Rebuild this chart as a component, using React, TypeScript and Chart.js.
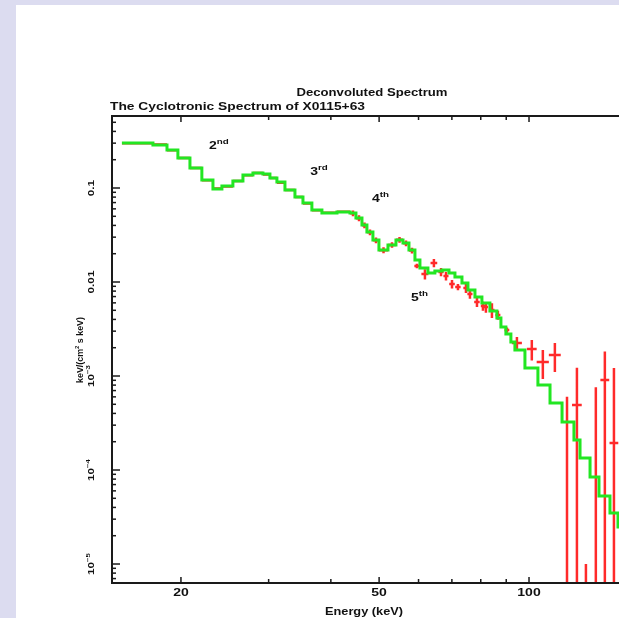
import { useEffect, useRef } from 'react';
import { Chart, registerables } from 'chart.js';
Chart.register(...registerables);

const FONT = "'Liberation Sans', Arial, Helvetica, sans-serif";

// ---------- data ----------
const titleText = 'Deconvoluted Spectrum';
const subtitleText = 'The Cyclotronic Spectrum of X0115+63';
const xAxisTitle = 'Energy (keV)';
const yAxisTitle = 'keV/(cm^{2} s keV)';

const xRange = [14.54, 151.6];
const yRange = [6.28e-6, 0.5834];

const xTickValues = [20, 50, 100];
const xTickLabels = ['20', '50', '100'];
const xMinorTickValues = [30, 40, 60, 70, 80, 90];

const yTickValues = [0.1, 0.01, 1e-3, 1e-4, 1e-5];
const yTickLabels = ['0.1', '0.01', '10^{\u22123}', '10^{\u22124}', '10^{\u22125}'];

// model (green histogram): bin edges (keV) and value of each bin
const modelEdges = [15.22, 17.57, 18.75, 19.72, 20.85, 22.03, 23.19, 24.17, 25.43, 26.64, 27.9, 29.22, 30.18, 31.17, 32.35, 33.88, 35.16, 36.64, 38.38, 41.15, 43.7, 44.92, 46.19, 47.26, 48.59, 49.96, 52.09, 54.05, 55.84, 57.4, 59.01, 60.39, 62.66, 64.71, 66.88, 69.07, 71.0, 73.34, 75.4, 77.88, 80.43, 83.46, 86.2, 87.82, 89.86, 91.96, 93.69, 98.13, 104.2, 110.2, 116.5, 123.1, 126.6, 132.6, 138.2, 145.4, 150.9, 155.8];
const modelValues = [0.301, 0.287, 0.254, 0.2085, 0.1632, 0.1216, 0.0976, 0.105, 0.1187, 0.1375, 0.1444, 0.1409, 0.1278, 0.1158, 0.0952, 0.0802, 0.0692, 0.0583, 0.0542, 0.0556, 0.0542, 0.048, 0.0404, 0.034, 0.028, 0.0219, 0.0247, 0.028, 0.026, 0.0219, 0.01714, 0.01409, 0.01246, 0.01309, 0.01342, 0.01246, 0.0113, 0.00976, 0.00822, 0.00692, 0.00598, 0.00491, 0.00414, 0.00332, 0.0028, 0.0023, 0.00189, 0.00122, 0.000802, 0.000516, 0.000324, 0.000208, 0.000134, 0.0000842, 0.0000529, 0.0000349, 0.0000247];

// data (red crosses)
const dataEnergy = [16.4, 18.16, 19.24, 20.29, 21.44, 22.61, 23.68, 24.8, 26.04, 27.27, 28.56, 29.7, 30.68, 31.76, 33.12, 34.52, 35.9, 37.51, 39.77, 42.43, 44.31, 45.56, 46.73, 47.93, 49.28, 51.03, 53.07, 54.95, 56.62, 58.21, 59.55, 61.8, 64.42, 66.57, 68.12, 70.04, 71.99, 74.71, 76.1, 78.61, 80.81, 81.93, 84.24, 86.6, 90.28, 94.56, 101.3, 106.6, 112.7, 119.2, 124.8, 130.1, 136.2, 142.0, 148.1];
const dataEnergyErr = [1.17, 0.59, 0.49, 0.56, 0.59, 0.58, 0.49, 0.63, 0.6, 0.63, 0.66, 0.48, 0.5, 0.59, 0.77, 0.64, 0.74, 0.87, 1.39, 1.28, 0.61, 0.64, 0.54, 0.67, 0.69, 1.07, 0.98, 0.9, 0.78, 0.81, 0.7, 1.0, 1.0, 0.8, 0.8, 0.9, 0.9, 0.9, 0.9, 1.0, 0.8, 0.8, 1.0, 1.0, 1.0, 2.2, 2.3, 3.0, 3.1, 2.7, 2.8, 2.7, 2.8, 2.9, 3.0];
const dataFlux = [0.3, 0.29, 0.252, 0.208, 0.163, 0.121, 0.099, 0.104, 0.119, 0.137, 0.144, 0.139, 0.128, 0.114, 0.0955, 0.08, 0.0685, 0.058, 0.0545, 0.0558, 0.054, 0.0478, 0.0402, 0.0338, 0.0278, 0.0218, 0.0248, 0.0282, 0.0258, 0.0216, 0.0148, 0.01216, 0.01592, 0.01278, 0.01158, 0.00952, 0.00885, 0.00863, 0.00745, 0.00613, 0.00556, 0.00542, 0.00504, 0.00446, 0.00309, 0.002244, 0.001938, 0.001409, 0.001673, -0.0002, 0.000491, -0.0003, -0.0001, 0.000907, 0.000194];
const dataFluxErr = [0.006, 0.0058, 0.005, 0.0042, 0.0033, 0.0025, 0.002, 0.0021, 0.0024, 0.0027, 0.0029, 0.0028, 0.0026, 0.0023, 0.0019, 0.0016, 0.0014, 0.0012, 0.0011, 0.0011, 0.0038, 0.0034, 0.0028, 0.0024, 0.002, 0.0016, 0.0017, 0.002, 0.0018, 0.0015, 0.0008, 0.0015, 0.0016, 0.0013, 0.0012, 0.001, 0.0007, 0.001, 0.0008, 0.0007, 0.0006, 0.0007, 0.0009, 0.0005, 0.0002, 0.00036, 0.00048, 0.00048, 0.00057, 0.0008, 0.00073, 0.00031, 0.00086, 0.00092, 0.00102];

// harmonic labels
const harmonicLabels = ['2^{nd}', '3^{rd}', '4^{th}', '5^{th}'];
const harmonicEnergy = [23.3, 37.2, 49.5, 59.3];
const harmonicFlux = [0.2795, 0.1479, 0.0764, 0.00676];

// ---------- helpers ----------
type Part = { t: string; sup: boolean };
function parseRich(s: string): Part[] {
  const parts: Part[] = [];
  const re = /\^\{([^}]*)\}/g;
  let last = 0;
  let m: RegExpExecArray | null;
  while ((m = re.exec(s))) {
    if (m.index > last) parts.push({ t: s.slice(last, m.index), sup: false });
    parts.push({ t: m[1], sup: true });
    last = re.lastIndex;
  }
  if (last < s.length) parts.push({ t: s.slice(last), sup: false });
  return parts;
}

function drawRich(
  ctx: CanvasRenderingContext2D,
  s: string,
  x: number,
  y: number,
  size: number,
  opts: { sx?: number; width?: number; rot?: number; align?: 'left' | 'center' | 'right' } = {}
) {
  const parts = parseRich(s);
  const supSize = Math.round(size * 0.72);
  let w = 0;
  const widths = parts.map((p) => {
    ctx.font = `bold ${p.sup ? supSize : size}px ${FONT}`;
    const mw = ctx.measureText(p.t).width;
    w += mw;
    return mw;
  });
  const sx = opts.width ? opts.width / w : opts.sx ?? 1;
  const align = opts.align ?? 'center';
  ctx.save();
  ctx.translate(x, y);
  if (opts.rot) ctx.rotate(opts.rot);
  ctx.scale(sx, 1);
  let start = align === 'left' ? 0 : align === 'right' ? -w : -w / 2;
  ctx.textBaseline = 'middle';
  ctx.textAlign = 'left';
  ctx.fillStyle = '#111';
  parts.forEach((p, i) => {
    ctx.font = `bold ${p.sup ? supSize : size}px ${FONT}`;
    ctx.fillText(p.t, start, p.sup ? -size * 0.42 : 0);
    start += widths[i];
  });
  ctx.restore();
}

const overlayPlugin = {
  id: 'overlay',
  beforeDraw(chart: any) {
    const { ctx, width, height } = chart;
    ctx.save();
    ctx.fillStyle = '#dcdcf0';
    ctx.fillRect(0, 0, width, height);
    ctx.fillStyle = '#ffffff';
    ctx.fillRect(16, 5, width - 16, height - 5);
    ctx.restore();
  },
  afterDatasetsDraw(chart: any) {
    const { ctx, chartArea } = chart;
    const xs = chart.scales.x;
    const ys = chart.scales.y;
    const { left, right, top, bottom } = chartArea;
    ctx.save();
    ctx.strokeStyle = '#1a1a1a';
    // frame
    ctx.lineWidth = 2;
    ctx.beginPath();
    ctx.moveTo(right + 2, top);
    ctx.lineTo(left, top);
    ctx.lineTo(left, bottom);
    ctx.lineTo(right + 2, bottom);
    ctx.stroke();
    // x ticks
    ctx.lineWidth = 1.5;
    const xTick = (v: number, len: number) => {
      const px = xs.getPixelForValue(v);
      ctx.beginPath();
      ctx.moveTo(px, bottom);
      ctx.lineTo(px, bottom - len);
      ctx.moveTo(px, top);
      ctx.lineTo(px, top + len);
      ctx.stroke();
    };
    xTickValues.forEach((v) => xTick(v, 6));
    xMinorTickValues.forEach((v) => xTick(v, 4));
    // y ticks
    const yTick = (v: number, len: number) => {
      const py = ys.getPixelForValue(v);
      if (py < top - 0.5 || py > bottom + 0.5) return;
      ctx.beginPath();
      ctx.moveTo(left, py);
      ctx.lineTo(left + len, py);
      ctx.stroke();
    };
    for (let e = -6; e <= 0; e++) {
      for (let k = 1; k <= 9; k++) {
        const v = k * Math.pow(10, e);
        if (v < yRange[0] || v > yRange[1]) continue;
        yTick(v, k === 1 ? 8 : 4);
      }
    }
    ctx.restore();

    // tick labels
    xTickValues.forEach((v, i) => {
      drawRich(ctx, xTickLabels[i], xs.getPixelForValue(v), bottom + 10, 10, { sx: 1.4 });
    });
    yTickValues.forEach((v, i) => {
      drawRich(ctx, yTickLabels[i], left - 20, ys.getPixelForValue(v), 9, { sx: 1.3, rot: -Math.PI / 2 });
    });
    // axis titles
    drawRich(ctx, xAxisTitle, 364, bottom + 29, 10, { width: 78 });
    drawRich(ctx, yAxisTitle, left - 31, 350, 9, { width: 66, rot: -Math.PI / 2 });
    // titles
    drawRich(ctx, titleText, 372, 93, 10, { width: 151 });
    drawRich(ctx, subtitleText, 110, 107, 10, { width: 255, align: 'left' });
    // harmonic labels
    harmonicLabels.forEach((s, i) => {
      drawRich(ctx, s, xs.getPixelForValue(harmonicEnergy[i]) - 5, ys.getPixelForValue(harmonicFlux[i]), 10, { sx: 1.4, align: 'left' });
    });
  },
};

function buildModel() {
  const pts: { x: number; y: number }[] = [];
  for (let i = 0; i < modelValues.length; i++) {
    pts.push({ x: modelEdges[i], y: modelValues[i] });
    pts.push({ x: modelEdges[i + 1], y: modelValues[i] });
  }
  return pts;
}

function buildErrorBars() {
  const pts: { x: number; y: number | null }[] = [];
  const floor = 1e-9;
  for (let i = 0; i < dataEnergy.length; i++) {
    const e = dataEnergy[i];
    const de = dataEnergyErr[i];
    const f = dataFlux[i];
    const df = dataFluxErr[i];
    if (f > 0) {
      pts.push({ x: e - de, y: f });
      pts.push({ x: e + de, y: f });
      pts.push({ x: e + de, y: null });
    }
    const lo = f - df > 0 ? f - df : floor;
    pts.push({ x: e, y: lo });
    pts.push({ x: e, y: f + df });
    pts.push({ x: e, y: null });
  }
  return pts;
}

export default function App() {
  const ref = useRef<HTMLCanvasElement | null>(null);
  useEffect(() => {
    document.body.style.margin = '0';
    document.body.style.background = '#dcdcf0';
    const canvas = ref.current;
    if (!canvas) return;
    const chart = new Chart(canvas, {
      type: 'line',
      data: {
        datasets: [
          {
            label: 'model',
            data: buildModel() as any,
            borderColor: '#22e622',
            borderWidth: 3,
            pointRadius: 0,
            tension: 0,
            fill: false,
            clip: 0,
          } as any,
          {
            label: 'data',
            data: buildErrorBars() as any,
            borderColor: '#ff2a2a',
            borderWidth: 2.5,
            pointRadius: 0,
            tension: 0,
            fill: false,
            spanGaps: false,
            borderCapStyle: 'butt',
            clip: 0,
          } as any,
        ],
      },
      options: {
        responsive: false,
        maintainAspectRatio: false,
        animation: false,
        events: [],
        parsing: false as any,
        normalized: false,
        layout: { padding: { left: 112, top: 116, right: 0, bottom: 35 } },
        scales: {
          x: { type: 'logarithmic', min: xRange[0], max: xRange[1], display: false },
          y: { type: 'logarithmic', min: yRange[0], max: yRange[1], display: false },
        },
        plugins: {
          legend: { display: false },
          tooltip: { enabled: false },
          title: { display: false },
        },
      },
      plugins: [overlayPlugin],
    });
    return () => chart.destroy();
  }, []);
  return (
    <canvas
      ref={ref}
      width={619}
      height={618}
      style={{ display: 'block', width: 619, height: 618 }}
    />
  );
}
